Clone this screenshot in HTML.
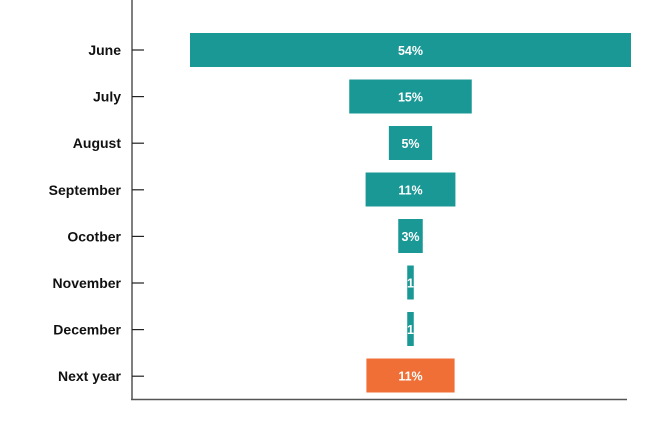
<!DOCTYPE html>
<html><head><meta charset="utf-8"><style>
body{margin:0;background:#fff;}
svg text{font-family:"Liberation Sans",sans-serif;font-weight:bold;}
</style></head><body>
<svg id="c" width="670" height="420" xmlns="http://www.w3.org/2000/svg"></svg>
<script>
const categories=["June","July","August","September","Ocotber","November","December","Next year"];
const values=[54,15,5.3,11,3,0.8,0.8,10.8];
const labels=["54%","15%","5%","11%","3%","1","1","11%"];
const colors=["#1a9896","#1a9896","#1a9896","#1a9896","#1a9896","#1a9896","#1a9896","#ef6f37"];
const svg=document.getElementById('c');
const NS='http://www.w3.org/2000/svg';
const cx=410.5, k=441/54;
function xw(v){return v*k;}
function yTick(i){return 50+i*46.6;}
function yBar(i){return 33+i*46.5;}
function mk(t,a){const e=document.createElementNS(NS,t);for(const n in a)e.setAttribute(n,a[n]);svg.appendChild(e);return e;}
let ax=mk('line',{x1:132,y1:0,x2:132,y2:400,stroke:'#555','stroke-width':1.5});


let bx=mk('line',{x1:131,y1:399.5,x2:627,y2:399.5,stroke:'#555','stroke-width':1.5});


categories.forEach((c,i)=>{
  const y=yTick(i);
  const t=mk('line',{x1:132,y1:y,x2:144,y2:y,stroke:'#222','stroke-width':1.2});
  
  
  const l=mk('text',{x:121,y:y+5,'text-anchor':'end','font-size':14,fill:'#111'});
  l.textContent=c;
  
  
  const w=xw(values[i]);
  const r=mk('rect',{x:cx-w/2,y:yBar(i),width:w,height:34,fill:colors[i]});
  
  
  const v=mk('text',{x:cx,y:yBar(i)+22,'text-anchor':'middle','font-size':12.5,fill:'#fff'});
  v.textContent=labels[i];
  
  
});
</script>
</body></html>
